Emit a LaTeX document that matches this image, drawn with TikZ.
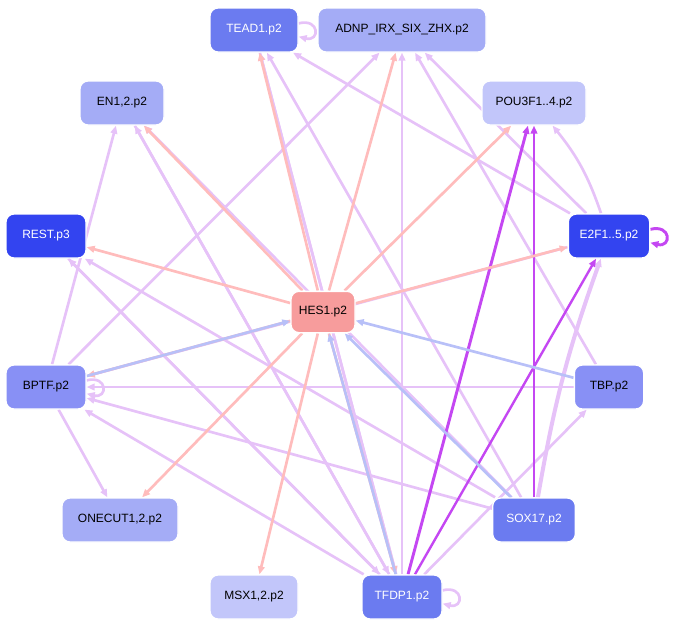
\documentclass[tikz,border=0pt]{standalone}
\usepackage{fontspec}
\setmainfont{Liberation Sans}
\usetikzlibrary{arrows.meta,backgrounds}
\definecolor{dark}{HTML}{3344F0}
\definecolor{mid}{HTML}{6B7BF0}
\definecolor{midl}{HTML}{8890F5}
\definecolor{light}{HTML}{A4ACF6}
\definecolor{pale}{HTML}{C2C6FA}
\definecolor{hes}{HTML}{F79C9C}
\definecolor{pinkE}{HTML}{FFBCBC}
\definecolor{lavE}{HTML}{E6C2F8}
\definecolor{purE}{HTML}{C447F2}
\definecolor{bluE}{HTML}{B8C0F8}
\tikzset{
  gene/.style={draw=white, line width=1pt, rounded corners=6pt, minimum height=33pt,
    inner sep=3pt, font=\small},
  e/.style={-{Triangle[length=6pt,width=5pt]}, line width=2pt, draw=lavE},
  ep/.style={e, draw=pinkE},
  eb/.style={e, draw=bluE},
  es/.style={e, draw=purE, line width=2.2pt}
}
\begin{document}
\begin{tikzpicture}[x=0.75pt,y=-0.75pt]
\useasboundingbox (0,0) rectangle (683,626);
% nodes
\node[gene, fill=mid, text=white, minimum width=66pt] (tead) at (254,30) {TEAD1.p2};
\node[gene, fill=light, minimum width=126pt] (adnp) at (402,30) {ADNP\_IRX\_SIX\_ZHX.p2};
\node[gene, fill=light, minimum width=63pt] (en) at (122,103) {EN1,2.p2};
\node[gene, fill=pale, minimum width=78pt] (pou) at (534,103) {POU3F1..4.p2};
\node[gene, fill=dark, text=white, minimum width=60pt] (rest) at (46,236) {REST.p3};
\node[gene, fill=dark, text=white, minimum width=61pt] (e2f) at (609,236) {E2F1..5.p2};
\node[gene, fill=hes, minimum width=48pt, minimum height=31pt] (hes) at (323,312) {HES1.p2};
\node[gene, fill=midl, minimum width=60pt] (bptf) at (46,387) {BPTF.p2};
\node[gene, fill=midl, minimum width=52pt] (tbp) at (609,387) {TBP.p2};
\node[gene, fill=light, minimum width=87pt] (onecut) at (120,520) {ONECUT1,2.p2};
\node[gene, fill=mid, text=white, minimum width=62pt] (sox) at (534,520) {SOX17.p2};
\node[gene, fill=pale, minimum width=66pt] (msx) at (254,597) {MSX1,2.p2};
\node[gene, fill=mid, text=white, minimum width=60pt] (tfdp) at (402,597) {TFDP1.p2};
\begin{scope}[on background layer]
% lavender edges
\foreach \a/\b in {e2f/tead, e2f/adnp, e2f/bptf, tfdp/tead, tfdp/adnp, tfdp/en,
  tfdp/bptf, tfdp/rest, tfdp/tbp, sox/tead, sox/en, sox/rest, sox/bptf, tbp/bptf, tbp/adnp,
  bptf/en, bptf/adnp, bptf/onecut, rest/tfdp, en/tfdp, tead/tfdp}
  \draw[e] (\a) -- (\b);
\draw[e] (e2f) to[bend right=10] (pou);
\draw[e, line width=3pt] (sox) to[bend left=5] (e2f);
% loops
\foreach \n in {tead, tfdp, bptf}
  \draw[e] ([yshift=5pt]\n.east) .. controls +(16pt,4pt) and +(16pt,-4pt) .. ([yshift=-5pt]\n.east);
\draw[es] ([yshift=5pt]e2f.east) .. controls +(16pt,4pt) and +(16pt,-4pt) .. ([yshift=-5pt]e2f.east);
% strong edges
\draw[es] (tfdp) -- (pou);
\draw[es] (sox) -- (pou.south);
\draw[es, line width=1.8pt] (tfdp) -- (e2f);
% from HES1
\foreach \b in {tead, adnp, pou, en, rest, e2f, bptf, onecut, msx, tfdp}
  \draw[ep] (hes) -- (\b);
% into HES1
\foreach \a in {tbp, sox, tfdp, bptf}
  \draw[eb] (\a) -- (hes);
\end{scope}
\end{tikzpicture}
\end{document}
